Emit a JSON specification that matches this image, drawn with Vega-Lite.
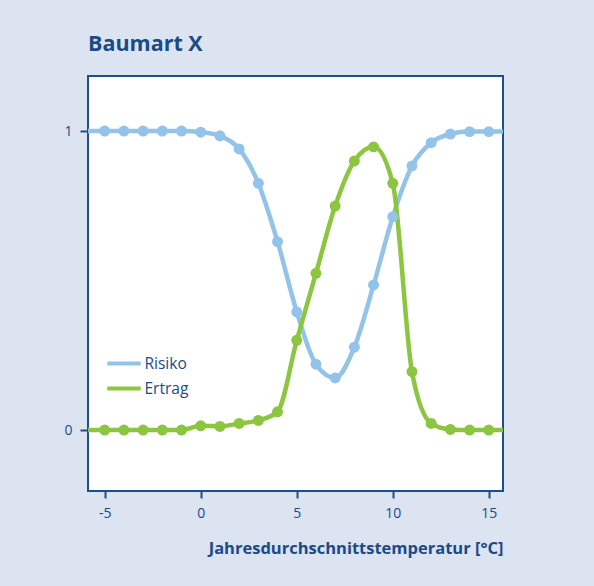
{
  "$schema": "https://vega.github.io/schema/vega-lite/v6.json",
  "width": 415,
  "height": 415,
  "autosize": {"type": "none"},
  "padding": {"left": 88, "top": 76, "right": 91, "bottom": 95},
  "background": "#dce3f1",
  "title": {"text": "Baumart X", "anchor": "start", "frame": "group", "fontSize": 21.5, "fontWeight": "bold", "color": "#1b4a87", "font": "Open Sans", "baseline": "alphabetic", "offset": 4},
  "data": {"values": [
    {"t": -6, "s": "Risiko", "v": 1}, {"t": -5, "s": "Risiko", "v": 1}, {"t": -4, "s": "Risiko", "v": 1}, {"t": -3, "s": "Risiko", "v": 1}, {"t": -2, "s": "Risiko", "v": 1}, {"t": -1, "s": "Risiko", "v": 1}, {"t": 0, "s": "Risiko", "v": 0.996}, {"t": 1, "s": "Risiko", "v": 0.984}, {"t": 2, "s": "Risiko", "v": 0.94}, {"t": 3, "s": "Risiko", "v": 0.825}, {"t": 4, "s": "Risiko", "v": 0.63}, {"t": 5, "s": "Risiko", "v": 0.395}, {"t": 6, "s": "Risiko", "v": 0.22}, {"t": 7, "s": "Risiko", "v": 0.174}, {"t": 8, "s": "Risiko", "v": 0.277}, {"t": 9, "s": "Risiko", "v": 0.485}, {"t": 10, "s": "Risiko", "v": 0.713}, {"t": 11, "s": "Risiko", "v": 0.883}, {"t": 12, "s": "Risiko", "v": 0.961}, {"t": 13, "s": "Risiko", "v": 0.99}, {"t": 14, "s": "Risiko", "v": 0.998}, {"t": 15, "s": "Risiko", "v": 0.998}, {"t": 16, "s": "Risiko", "v": 0.998},
    {"t": -6, "s": "Ertrag", "v": 0}, {"t": -5, "s": "Ertrag", "v": 0}, {"t": -4, "s": "Ertrag", "v": 0}, {"t": -3, "s": "Ertrag", "v": 0}, {"t": -2, "s": "Ertrag", "v": 0}, {"t": -1, "s": "Ertrag", "v": 0}, {"t": 0, "s": "Ertrag", "v": 0.014}, {"t": 1, "s": "Ertrag", "v": 0.012}, {"t": 2, "s": "Ertrag", "v": 0.022}, {"t": 3, "s": "Ertrag", "v": 0.032}, {"t": 4, "s": "Ertrag", "v": 0.061}, {"t": 5, "s": "Ertrag", "v": 0.3}, {"t": 6, "s": "Ertrag", "v": 0.524}, {"t": 7, "s": "Ertrag", "v": 0.749}, {"t": 8, "s": "Ertrag", "v": 0.9}, {"t": 9, "s": "Ertrag", "v": 0.947}, {"t": 10, "s": "Ertrag", "v": 0.825}, {"t": 11, "s": "Ertrag", "v": 0.195}, {"t": 12, "s": "Ertrag", "v": 0.022}, {"t": 13, "s": "Ertrag", "v": 0.002}, {"t": 14, "s": "Ertrag", "v": 0}, {"t": 15, "s": "Ertrag", "v": 0}, {"t": 16, "s": "Ertrag", "v": 0}
  ]},
  "encoding": {
    "x": {"field": "t", "type": "quantitative", "scale": {"domain": [-5.87, 15.74], "nice": false, "zero": false},
      "axis": {"values": [-5, 0, 5, 10, 15], "labelExpr": "'' + datum.value", "grid": false, "domain": false, "tickColor": "#1f4e8c", "tickWidth": 2, "tickSize": 7, "labelFontSize": 14, "labelColor": "#1b4a87", "labelPadding": 8, "title": "Jahresdurchschnittstemperatur [°C]", "titleFontSize": 16.5, "titleFontWeight": "bold", "titleColor": "#1b4a87", "titleAnchor": "end", "titleAlign": "right", "titleX": 415, "titleY": 62, "titleBaseline": "alphabetic"}},
    "y": {"field": "v", "type": "quantitative", "scale": {"domain": [-0.204, 1.184], "nice": false, "zero": false},
      "axis": {"values": [0, 1], "format": "d", "grid": false, "domain": false, "tickColor": "#1f4e8c", "tickWidth": 2, "tickSize": 8, "labelFontSize": 14, "labelColor": "#1b4a87", "labelPadding": 8, "title": null}},
    "color": {"field": "s", "type": "nominal", "scale": {"domain": ["Risiko", "Ertrag"], "range": ["#93c3e8", "#8cc540"]},
      "legend": {"orient": "none", "legendX": 25.5, "legendY": 277, "title": null, "symbolType": "M-2,0H2", "symbolStrokeWidth": 4, "symbolSize": 280, "labelFontSize": 15.5, "labelColor": "#1b4a87", "labelOffset": 10, "rowPadding": 6}}
  },
  "layer": [
    {"mark": {"type": "line", "interpolate": "monotone", "strokeWidth": 4.5, "clip": true}},
    {"transform": [{"filter": "datum.t >= -5 && datum.t <= 15"}], "mark": {"type": "circle", "size": 120, "opacity": 1, "clip": true}}
  ],
  "config": {
    "font": "Open Sans",
    "view": {"stroke": "#1f4e8c", "strokeWidth": 2, "fill": "white"}
  }
}
